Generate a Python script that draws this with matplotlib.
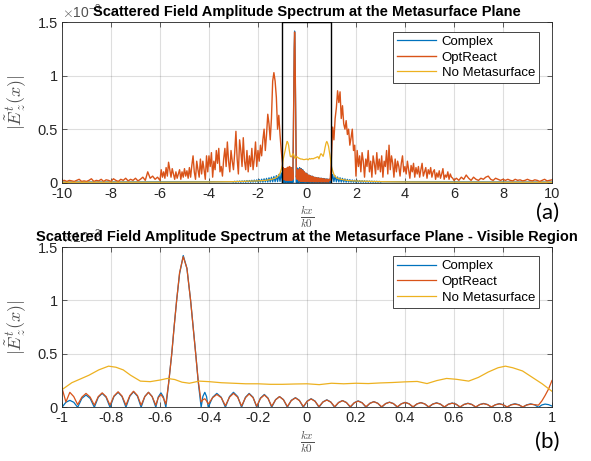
import numpy as np
import matplotlib
matplotlib.use("Agg")
import matplotlib.pyplot as plt
from matplotlib.patches import Rectangle
from matplotlib.ticker import ScalarFormatter

# couleurs MATLAB par defaut
C_BLUE = "#0072BD"
C_ORANGE = "#D95319"
C_YELLOW = "#EDB120"
AX_COLOR = "#262626"

labels = ["Complex", "OptReact", "No Metasurface"]

# ---- region visible (-1..1), valeurs en 1e-3 ----
kx_vis = [
    -1.000, -0.984, -0.968, -0.952,
    -0.936, -0.919, -0.902, -0.885,
    -0.868, -0.852, -0.836, -0.820,
    -0.804, -0.788, -0.771, -0.755,
    -0.739, -0.723, -0.708, -0.692,
    -0.677, -0.662, -0.647, -0.632,
    -0.617, -0.607, -0.596, -0.586,
    -0.576, -0.565, -0.552, -0.542, -0.532, -0.520, -0.505, -0.490, -0.475, -0.465, -0.454, -0.444,
    -0.432, -0.425, -0.417, -0.410,
    -0.403, -0.385, -0.368, -0.350,
    -0.333, -0.316, -0.300, -0.283,
    -0.267, -0.251, -0.236, -0.220,
    -0.205, -0.190, -0.174, -0.159,
    -0.144, -0.128, -0.112, -0.096,
    -0.080, -0.064, -0.047, -0.031,
    -0.015, 0.001, 0.017, 0.033,
    0.049, 0.065, 0.081, 0.097,
    0.113, 0.129, 0.145, 0.161,
    0.177, 0.193, 0.209, 0.225,
    0.241, 0.257, 0.273, 0.289,
    0.305, 0.321, 0.337, 0.353,
    0.369, 0.385, 0.401, 0.417,
    0.433, 0.449, 0.465, 0.481,
    0.497, 0.513, 0.529, 0.545,
    0.561, 0.577, 0.593, 0.609,
    0.625, 0.641, 0.657, 0.673,
    0.689, 0.705, 0.721, 0.737,
    0.753, 0.769, 0.785, 0.801,
    0.817, 0.833, 0.849, 0.865,
    0.881, 0.897, 0.913, 0.929,
    0.945, 0.959, 0.972, 0.986, 1.000,
]

complex_vis = [
    0, .047, .065, .047,
    0, .083, .115, .083,
    0, .094, .130, .094,
    0, .101, .140, .101,
    0, .104, .145, .104,
    0, .101, .140, .101,
    0, .097, .135, .097,
    0, .22, .50, .76, 1.00, 1.25, 1.42, 1.30, 1.00, .76, .50, .24,
    0, .101, .140, .101,
    0, .094, .130, .094,
    0, .101, .140, .101,
    0, .094, .130, .094,
    0, .086, .120, .086,
    0, .072, .100, .072,
    0, .065, .090, .065,
    0, .058, .080, .058,
    0, .050, .070, .050,
    0, .045, .063, .045,
    0, .043, .060, .043,
    0, .038, .053, .038,
    0, .035, .048, .035,
    0, .033, .046, .033,
    0, .032, .044, .032,
    0, .030, .042, .030,
    0, .029, .040, .029,
    0, .027, .038, .027,
    0, .026, .036, .026,
    0, .024, .034, .024,
    0, .024, .033, .024,
    0, .023, .032, .023,
    0, .022, .030, .025, .012,
]

optreact_vis = [
    .180, .050, .140, .100,
    .025, .095, .130, .095,
    .020, .100, .135, .100,
    .020, .105, .145, .105,
    .020, .110, .150, .110,
    .020, .100, .140, .100,
    .020, .090, .120, .085,
    .030, .22, .50, .76, 1.00, 1.26, 1.41, 1.30, 1.00, .76, .50, .25,
    .050, .070, .080, .060,
    .030, .090, .120, .090,
    .015, .095, .130, .095,
    .012, .090, .125, .090,
    .010, .083, .115, .083,
    .010, .070, .100, .070,
    .008, .063, .088, .063,
    .008, .056, .078, .056,
    .007, .049, .068, .049,
    .006, .044, .062, .044,
    .006, .042, .058, .042,
    .006, .037, .052, .037,
    .005, .034, .047, .034,
    .005, .032, .045, .032,
    .005, .031, .043, .031,
    .005, .029, .040, .029,
    .004, .028, .038, .028,
    .004, .026, .036, .026,
    .004, .025, .034, .025,
    .004, .023, .032, .023,
    .004, .022, .030, .022,
    .004, .021, .029, .024,
    .020, .060, .110, .170, .250,
]

kx_nometa_vis = [-1, -0.96, -0.93, -0.89, -0.85, -0.81, -0.78, -0.75, -0.72, -0.68,
                 -0.64, -0.6, -0.57, -0.54, -0.51, -0.48, -0.44, -0.4, -0.35, -0.3,
                 -0.25, -0.2, -0.15, -0.1, -0.05, 0, 0.05, 0.1, 0.15, 0.2,
                 0.25, 0.3, 0.35, 0.4, 0.45, 0.49, 0.53, 0.57, 0.61, 0.66,
                 0.7, 0.74, 0.78, 0.81, 0.84, 0.88, 0.92, 0.96, 1.0]
nometa_vis = [0.165, 0.23, 0.26, 0.30, 0.35, 0.385, 0.375, 0.35, 0.30, 0.245,
              0.24, 0.255, 0.27, 0.26, 0.235, 0.225, 0.245, 0.24, 0.23, 0.225,
              0.22, 0.22, 0.215, 0.215, 0.218, 0.22, 0.212, 0.225, 0.22, 0.225,
              0.222, 0.228, 0.232, 0.238, 0.242, 0.222, 0.25, 0.27, 0.262, 0.245,
              0.28, 0.33, 0.37, 0.385, 0.37, 0.34, 0.28, 0.22, 0.15]

# ---- ondes evanescentes (|kx/k0| > 1), OptReact ----
kx_far_left = np.linspace(-10.0, -6.1, 40)
kx_near_left = np.linspace(-6.0, -1.05, 100)
kx_near_right = np.linspace(1.05, 6.0, 100)
kx_far_right = np.linspace(6.1, 10.0, 40)

optreact_far_left = [
    0.015, 0.02, 0.01, 0.02, 0.015, 0.01, 0.02, 0.03, 0.01, 0.015,
    0.01, 0.02, 0.035, 0.01, 0.02, 0.015, 0.03, 0.01, 0.025, 0.02,
    0.01, 0.035, 0.02, 0.01, 0.03, 0.02, 0.04, 0.015, 0.03, 0.02,
    0.04, 0.015, 0.03, 0.05, 0.02, 0.1, 0.04, 0.06, 0.03, 0.05,
]
optreact_near_left = [
    0.02, 0.12, 0.05, 0.10, 0.04, 0.14, 0.06, 0.19, 0.12, 0.05,
    0.13, 0.08, 0.03, 0.10, 0.04, 0.08, 0.12, 0.03, 0.10, 0.05,
    0.13, 0.06, 0.11, 0.04, 0.14, 0.05, 0.16, 0.25, 0.10, 0.03,
    0.20, 0.12, 0.05, 0.22, 0.08, 0.20, 0.12, 0.03, 0.25, 0.10,
    0.25, 0.15, 0.28, 0.05, 0.20, 0.12, 0.30, 0.18, 0.32, 0.10,
    0.15, 0.06, 0.22, 0.32, 0.15, 0.38, 0.20, 0.10, 0.30, 0.20,
    0.12, 0.28, 0.48, 0.22, 0.08, 0.40, 0.30, 0.15, 0.42, 0.20,
    0.12, 0.30, 0.10, 0.25, 0.15, 0.32, 0.12, 0.22, 0.38, 0.15,
    0.30, 0.20, 0.35, 0.25, 0.40, 0.50, 0.30, 0.45, 0.64, 0.55,
    0.40, 0.60, 0.95, 1.03, 0.95, 0.80, 0.50, 0.63, 0.45, 0.30,
]
optreact_near_right = [
    0.52, 0.40, 0.60, 0.70, 0.86, 0.75, 0.85, 0.60, 0.72, 0.55,
    0.50, 0.58, 0.45, 0.50, 0.35, 0.42, 0.50, 0.30, 0.35, 0.06,
    0.30, 0.15, 0.25, 0.10, 0.28, 0.20, 0.05, 0.22, 0.15, 0.30,
    0.10, 0.20, 0.05, 0.25, 0.18, 0.08, 0.28, 0.12, 0.22, 0.10,
    0.25, 0.05, 0.20, 0.15, 0.30, 0.08, 0.35, 0.12, 0.25, 0.18,
    0.05, 0.22, 0.10, 0.20, 0.15, 0.06, 0.18, 0.25, 0.10, 0.15,
    0.08, 0.20, 0.12, 0.04, 0.16, 0.10, 0.18, 0.05, 0.14, 0.08,
    0.15, 0.05, 0.12, 0.18, 0.06, 0.10, 0.14, 0.04, 0.12, 0.08,
    0.14, 0.05, 0.10, 0.12, 0.03, 0.09, 0.05, 0.11, 0.04, 0.08,
    0.13, 0.03, 0.07, 0.05, 0.10, 0.03, 0.08, 0.05, 0.04, 0.02,
]
optreact_far_right = [
    0.04, 0.02, 0.05, 0.03, 0.07, 0.04, 0.02, 0.05, 0.03, 0.02,
    0.04, 0.03, 0.05, 0.06, 0.03, 0.02, 0.04, 0.03, 0.02, 0.03,
    0.02, 0.03, 0.02, 0.015, 0.03, 0.02, 0.025, 0.015, 0.02, 0.03,
    0.02, 0.015, 0.025, 0.02, 0.01, 0.02, 0.03, 0.015, 0.02, 0.025,
]

# Complex hors region visible
kx_cplx_left_far = [-10.0, -7.0, -5.0, -3.05]
cplx_left_far = [0.004, 0.005, 0.006, 0.007]
kx_cplx_left = np.linspace(-3.0, -1.05, 40)
cplx_left = [
    0.003, 0.012, 0.002, 0.013, 0.003, 0.014, 0.002, 0.015, 0.003, 0.016,
    0.002, 0.018, 0.003, 0.019, 0.002, 0.021, 0.003, 0.023, 0.004, 0.025,
    0.003, 0.028, 0.004, 0.031, 0.003, 0.035, 0.005, 0.039, 0.004, 0.044,
    0.005, 0.050, 0.006, 0.057, 0.007, 0.065, 0.008, 0.076, 0.010, 0.090,
]
kx_cplx_right = np.linspace(1.05, 3.0, 40)
cplx_right = [
    0.075, 0.008, 0.062, 0.006, 0.052, 0.005, 0.045, 0.004, 0.039, 0.004,
    0.034, 0.003, 0.030, 0.003, 0.027, 0.003, 0.024, 0.002, 0.022, 0.002,
    0.020, 0.002, 0.018, 0.002, 0.017, 0.002, 0.016, 0.002, 0.015, 0.002,
    0.014, 0.002, 0.013, 0.002, 0.012, 0.002, 0.012, 0.002, 0.011, 0.002,
]
kx_cplx_right_far = [3.05, 5.0, 7.0, 10.0]
cplx_right_far = [0.007, 0.006, 0.005, 0.004]

# No Metasurface hors region visible
kx_nometa_left = [-10, -6, -4, -3, -2, -1.7, -1.5, -1.3, -1.2, -1.1, -1.05]
nometa_left = [0.002, 0.003, 0.005, 0.008, 0.015, 0.02, 0.027, 0.04, 0.055, 0.085, 0.12]
kx_nometa_right = [1.05, 1.1, 1.2, 1.3, 1.5, 1.7, 2, 3, 4, 6, 10]
nometa_right = [0.11, 0.075, 0.045, 0.035, 0.025, 0.018, 0.014, 0.008, 0.005, 0.003, 0.002]

SCALE = 1e-3

# assembler le spectre complet
kx_cplx_full = np.concatenate([kx_cplx_left_far, kx_cplx_left, kx_vis, kx_cplx_right, kx_cplx_right_far])
cplx_full = np.concatenate([cplx_left_far, cplx_left, complex_vis, cplx_right, cplx_right_far]) * SCALE
kx_opt_full = np.concatenate([kx_far_left, kx_near_left, kx_vis, kx_near_right, kx_far_right])
opt_full = np.concatenate([optreact_far_left, optreact_near_left, optreact_vis,
                           optreact_near_right, optreact_far_right]) * SCALE
kx_nm_full = np.concatenate([kx_nometa_left, kx_nometa_vis, kx_nometa_right])
nm_full = np.concatenate([nometa_left, nometa_vis, nometa_right]) * SCALE


class MatlabFormatter(ScalarFormatter):
    # 0, 0.5, 1, 1.5 comme MATLAB (pas de 1.0)
    def _set_format(self):
        self.format = "%g"


plt.rcParams["font.family"] = ["Liberation Sans", "DejaVu Sans"]
plt.rcParams["mathtext.fontset"] = "cm"

fig = plt.figure(figsize=(5.91, 4.61), dpi=100)
ax1 = fig.add_axes([0.1049, 0.6041, 0.829, 0.3471])
ax2 = fig.add_axes([0.1049, 0.1165, 0.829, 0.3477])


def style_axes(ax):
    ax.tick_params(direction="in", top=True, right=True, length=3.5, width=0.5,
                   labelsize=10.5, colors=AX_COLOR, pad=3)
    for s in ax.spines.values():
        s.set_linewidth(0.6)
        s.set_color(AX_COLOR)
    ax.grid(True, color="#262626", alpha=0.15, linewidth=0.8)
    ax.set_axisbelow(True)
    ax.set_ylim(0, 1.5e-3)
    ax.set_yticks([0, 0.5e-3, 1e-3, 1.5e-3])
    fmt = MatlabFormatter(useMathText=True)
    fmt.set_powerlimits((-3, -3))
    ax.yaxis.set_major_formatter(fmt)
    ax.yaxis.get_offset_text().set_fontsize(10)
    ax.yaxis.get_offset_text().set_color("#505050")
    ax.set_ylabel(r"$|\tilde{E}_z^t(x)|$", fontsize=13, color="#505050")
    ax.yaxis.set_label_coords(-0.07, 0.5)
    ax.set_xlabel(r"$\frac{kx}{k0}$", fontsize=11.5, color="#505050")
    ax.xaxis.set_label_coords(0.5, -0.135)
    leg = ax.legend(loc="upper right", bbox_to_anchor=(0.9735, 0.942), fontsize=9.5,
                    fancybox=False, framealpha=1, edgecolor=AX_COLOR, handlelength=3.0,
                    labelspacing=0.25, borderpad=0.3, handletextpad=0.4, borderaxespad=0)
    leg.get_frame().set_linewidth(0.6)


# (a) spectre complet
ax1.plot(kx_cplx_full, cplx_full, color=C_BLUE, lw=0.9, label=labels[0])
ax1.plot(kx_opt_full, opt_full, color=C_ORANGE, lw=1.0, label=labels[1])
ax1.plot(kx_nm_full, nm_full, color=C_YELLOW, lw=0.9, label=labels[2])
ax1.add_patch(Rectangle((-1, 0), 2, 1.5e-3, fill=False, edgecolor="k", lw=1.0, zorder=5))
ax1.set_xlim(-10, 10)
ax1.set_xticks(np.arange(-10, 11, 2))
ax1.set_xticklabels([str(v) for v in range(-10, 11, 2)])
style_axes(ax1)

# (b) region visible
ax2.plot(kx_vis, np.array(complex_vis) * SCALE, color=C_BLUE, lw=0.9, label=labels[0])
ax2.plot(kx_vis, np.array(optreact_vis) * SCALE, color=C_ORANGE, lw=0.9, label=labels[1])
ax2.plot(kx_nometa_vis, np.array(nometa_vis) * SCALE, color=C_YELLOW, lw=0.9, label=labels[2])
ax2.set_xlim(-1, 1)
ax2.set_xticks(np.round(np.arange(-1, 1.01, 0.2), 1))
ax2.set_xticklabels(["-1", "-0.8", "-0.6", "-0.4", "-0.2", "0", "0.2", "0.4", "0.6", "0.8", "1"])
style_axes(ax2)

# titres places a la main (MATLAB les fait chevaucher le x10^-3)
fig.text(0.519, 0.974, "Scattered Field Amplitude Spectrum at the Metasurface Plane",
         fontsize=10.5, fontweight="bold", ha="center", va="center")
fig.text(0.519, 0.486, "Scattered Field Amplitude Spectrum at the Metasurface Plane - Visible Region",
         fontsize=10.5, fontweight="bold", ha="center", va="center")

fig.text(0.926, 0.538, "(a)", fontsize=16, family=["Lato", "DejaVu Sans"], ha="center", va="center")
fig.text(0.926, 0.041, "(b)", fontsize=16, family=["Lato", "DejaVu Sans"], ha="center", va="center")

fig.savefig("out.png", dpi=100)
